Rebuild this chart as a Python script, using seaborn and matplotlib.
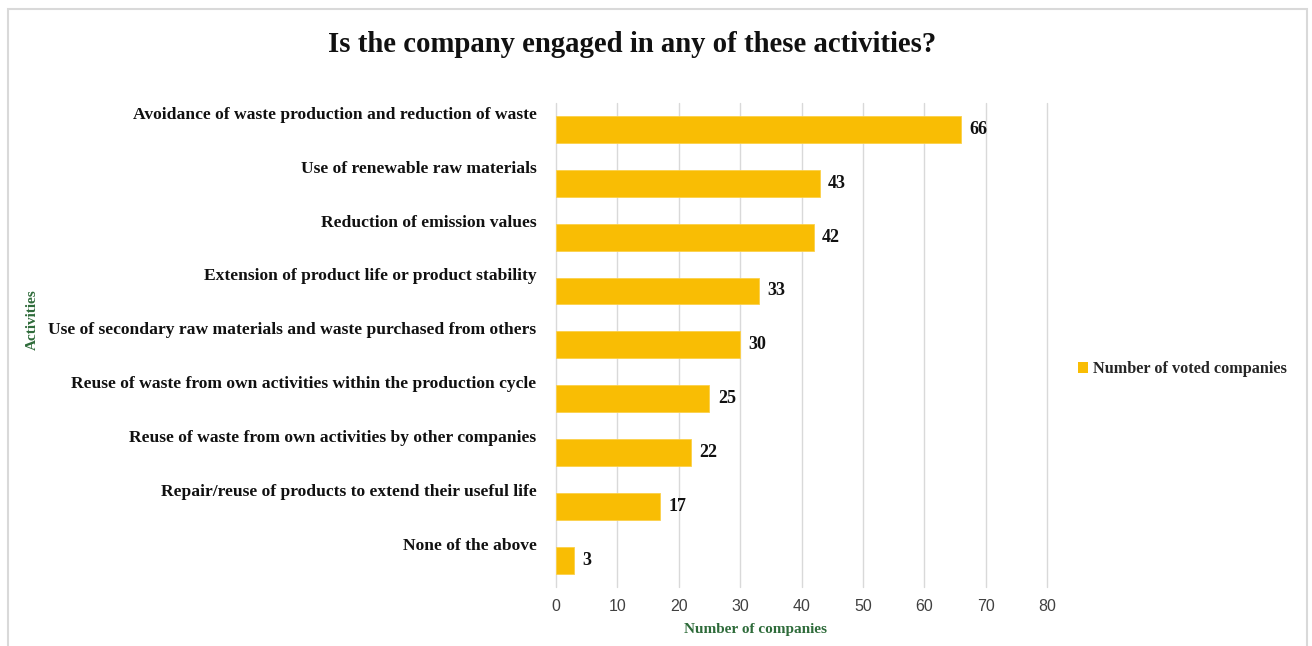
import matplotlib
matplotlib.use("Agg")
import matplotlib.pyplot as plt
import matplotlib.transforms as mtransforms
from matplotlib.patches import Patch, Rectangle
import seaborn as sns
import pandas as pd

activities = [
    "Avoidance of waste production and reduction of waste",
    "Use of renewable raw materials",
    "Reduction of emission values",
    "Extension of product life or product stability",
    "Use of secondary raw materials and waste purchased from others",
    "Reuse of waste from own activities within the production cycle",
    "Reuse of waste from own activities by other companies",
    "Repair/reuse of products to extend their useful life",
    "None of the above",
]
votes = [66, 43, 42, 33, 30, 25, 22, 17, 3]
x_ticks = [0, 10, 20, 30, 40, 50, 60, 70, 80]

title = "Is the company engaged in any of these activities?"
series_name = "Number of voted companies"
x_title = "Number of companies"
y_title = "Activities"

bar_color = "#F9BD04"
green = "#2E6B3A"
serif = "Liberation Serif"
sans = "Liberation Sans"

sns.set_theme(style="white")
plt.rcParams["font.family"] = [serif, "DejaVu Serif"]

df = pd.DataFrame({"activity": activities, "votes": votes})

fig = plt.figure(figsize=(13.12, 6.46), dpi=100)
ax = fig.add_axes([556 / 1312, 1 - 587 / 646, (1047 - 556) / 1312, (587 - 102.6) / 646])

sns.barplot(data=df, y="activity", x="votes", orient="h", color=bar_color,
            width=0.5, saturation=1, ax=ax, edgecolor="#FBD04A", linewidth=0.6)

ax.set_xlim(0, 80)
ax.set_xticks(x_ticks)
ax.set_xlabel("")
ax.set_ylabel("")
ax.grid(axis="x", color="#D9D9D9", linewidth=1)
ax.grid(axis="y", visible=False)
ax.set_axisbelow(True)
for s in ax.spines.values():
    s.set_visible(False)
for gl in ax.get_xgridlines():
    gl.set_clip_on(False)

ax.tick_params(axis="x", length=0, pad=8.5, labelsize=11.5, labelcolor="#404040")
for lab in ax.get_xticklabels():
    lab.set_fontfamily(sans)

ax.tick_params(axis="y", length=0, pad=14, labelsize=12.6)
shift = mtransforms.ScaledTranslation(0, 16.5 / 100, fig.dpi_scale_trans)
for lab in ax.get_yticklabels():
    lab.set_fontweight("bold")
    lab.set_color("#111111")
    lab.set_transform(lab.get_transform() + shift)

ax.bar_label(ax.containers[0], labels=[str(v) for v in votes], padding=6,
             fontsize=13, fontweight="bold", color="#111111")

fig.text(632 / 1312, 1 - 45 / 646, title, ha="center", va="center",
         fontsize=20.7, fontweight="bold", color="#111111")
fig.text(32 / 1312, 1 - 320 / 646, y_title, ha="center", va="center",
         rotation=90, fontsize=11, fontweight="bold", color=green)
fig.text(756 / 1312, 1 - 629 / 646, x_title, ha="center", va="center",
         fontsize=11, fontweight="bold", color=green)

leg = fig.legend(handles=[Patch(facecolor=bar_color, edgecolor="none")],
                 labels=[series_name], loc="center left",
                 bbox_to_anchor=(1063 / 1312, 1 - 369 / 646), frameon=False,
                 handlelength=0.65, handleheight=0.65, handletextpad=0.3,
                 prop={"family": serif, "weight": "bold", "size": 11.7})

fig.patches.append(Rectangle((7.5 / 1312, -0.05), (1307 - 7.5) / 1312, 1.05 - 9.5 / 646,
                             transform=fig.transFigure, fill=False,
                             edgecolor="#D9D9D9", linewidth=1.5))

fig.savefig("out.png", dpi=100, facecolor="white")
